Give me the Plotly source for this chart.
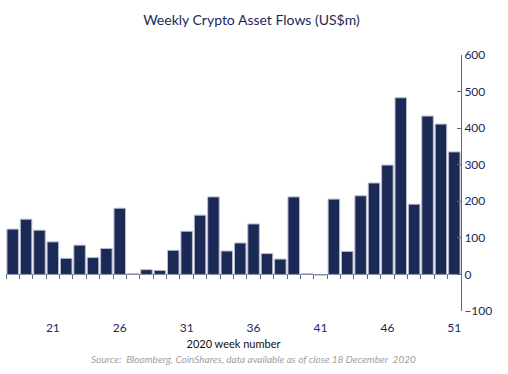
import plotly.graph_objects as go

weeks = list(range(18, 52))
flows = [124, 151, 121, 89, 44, 80, 46, 71, 181, 2, 13, 11, 66, 118, 162, 212, 64, 86, 138,
         57, 42, 212, 2, -2, 206, 63, 215, 250, 299, 483, 192, 433, 411, 335]
x_tick_vals = [21, 26, 31, 36, 41, 46, 51]
y_tick_vals = [-100, 0, 100, 200, 300, 400, 500, 600]

navy = "#1b2957"
font = "Lato"

fig = go.Figure()
fig.add_trace(go.Bar(
    x=weeks, y=flows,
    marker=dict(color=navy, line=dict(color="#b8bccb", width=1)),
    width=0.86,
    xaxis="x", yaxis="y",
))
# invisible trace binding the secondary x-axis used for the zero-line ticks
fig.add_trace(go.Scatter(x=[weeks[0]], y=[0], xaxis="x2", yaxis="y",
                         mode="markers", marker=dict(opacity=0), hoverinfo="skip",
                         showlegend=False))

xr = [weeks[0] - 0.5, weeks[-1] + 0.5]
ymin, ymax = -100, 600

fig.update_layout(
    width=508, height=374,
    margin=dict(l=6, r=47, t=55, b=63),
    paper_bgcolor="white", plot_bgcolor="white",
    showlegend=False,
    title=dict(text="Weekly Crypto Asset Flows (US$m)", x=0.495, xanchor="center",
               y=0.945, yanchor="middle",
               font=dict(family=font, size=14, color="#1b2957")),
    xaxis=dict(range=xr, tickmode="array", tickvals=x_tick_vals,
               ticktext=[str(v) for v in x_tick_vals],
               showgrid=False, zeroline=False, showline=False, ticks="",
               ticklabelstandoff=8,
               tickfont=dict(family=font, size=12, color=navy),
               title=dict(text="2020 week number", standoff=6,
                          font=dict(family=font, size=11, color="#111")),
               fixedrange=True),
    xaxis2=dict(range=xr, overlaying="x", anchor="free",
                position=(0 - ymin) / (ymax - ymin),
                tickmode="linear", tick0=xr[0], dtick=1,
                ticks="outside", ticklen=4, tickcolor="#5d6785",
                showticklabels=False, showline=True, linecolor="#8a90a8",
                linewidth=1, showgrid=False, zeroline=False),
    yaxis=dict(range=[ymin, ymax], side="right", tickmode="array",
               tickvals=y_tick_vals, ticks="inside", ticklen=4,
               tickcolor="#5d6785", showline=True, linecolor="#5d6785",
               linewidth=1, showgrid=False, zeroline=False,
               tickfont=dict(family=font, size=12, color=navy)),
    bargap=0.14,
    annotations=[dict(text="<i>Source:  Bloomberg, CoinShares, data available as of close 18 December  2020</i>",
                      xref="paper", yref="paper", x=0.545, y=-0.187,
                      xanchor="center", yanchor="middle", showarrow=False,
                      font=dict(family=font, size=10, color="#a0a0a0"))],
)

fig.write_html("out.html", config={"displayModeBar": False},
               post_script="document.body.style.margin='0';")
